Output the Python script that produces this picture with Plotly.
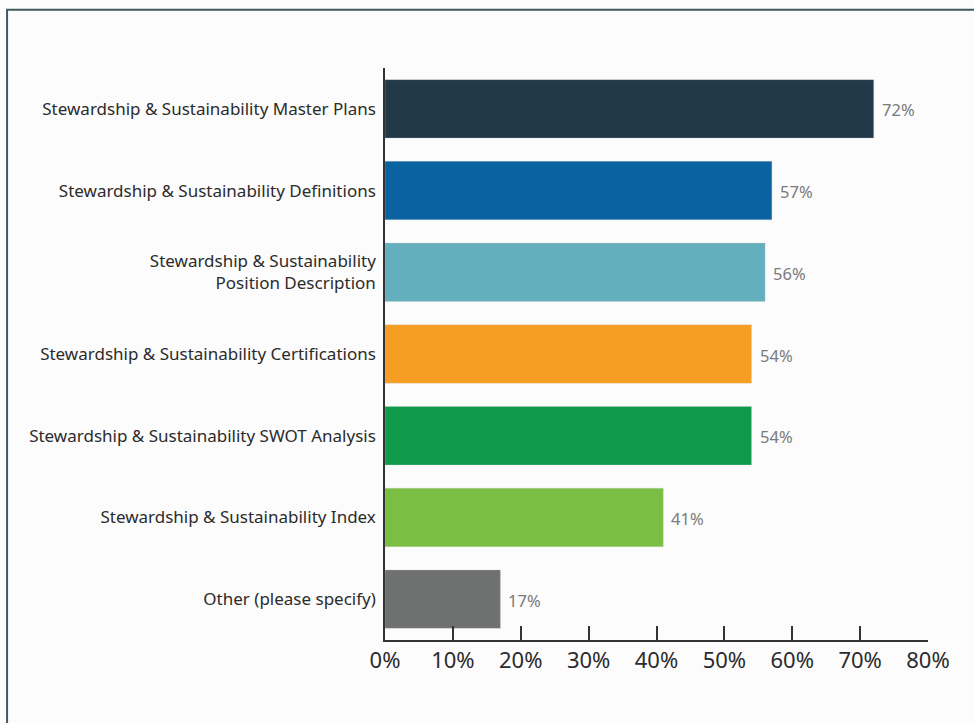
import plotly.graph_objects as go

categories = [
    "Stewardship & Sustainability Master Plans",
    "Stewardship & Sustainability Definitions",
    "Stewardship & Sustainability<br>Position Description",
    "Stewardship & Sustainability Certifications",
    "Stewardship & Sustainability SWOT Analysis",
    "Stewardship & Sustainability Index",
    "Other (please specify)",
]
values = [72, 57, 56, 54, 54, 41, 17]
colors = ["#22394a", "#0b62a0", "#63afbd", "#f59e23", "#0f9b49", "#7abf43", "#6f7170"]
tick_vals = [0, 10, 20, 30, 40, 50, 60, 70, 80]
tick_text = [f"{v}%" for v in tick_vals]

FONT = "Noto Sans"

fig = go.Figure(
    go.Bar(
        x=values,
        y=categories,
        orientation="h",
        marker=dict(color=colors, line=dict(color="rgba(200,200,200,0.6)", width=0.5)),
        width=0.715,
        hoverinfo="skip",
    )
)

# value labels just past each bar end
for cat, v in zip(categories, values):
    fig.add_annotation(
        x=v, y=cat, text=f"{v}%", showarrow=False,
        xanchor="left", xshift=6, yshift=-1,
        font=dict(family=FONT, size=16.5, color="#7a7a7a"),
    )

# outer frame
fig.add_shape(
    type="rect", xref="paper", yref="paper",
    x0=-0.696, x1=1.3, y0=-0.3, y1=1.102,
    line=dict(color="#3f5b60", width=2), fillcolor="rgba(0,0,0,0)", layer="below",
)

fig.update_layout(
    width=974, height=723,
    margin=dict(l=385, r=46, t=68, b=83),
    paper_bgcolor="#fcfcfc", plot_bgcolor="#fcfcfc",
    showlegend=False,
    font=dict(family=FONT, color="#2b2b2b"),
    xaxis=dict(
        range=[0, 80], tickvals=tick_vals, ticktext=tick_text,
        showgrid=False, zeroline=False,
        showline=True, linecolor="#333333", linewidth=1.5,
        ticks="inside", ticklen=14, tickwidth=1.5, tickcolor="#333333",
        tickfont=dict(family=FONT, size=22, color="#2b2b2b"),
        fixedrange=True,
    ),
    yaxis=dict(
        showgrid=False, zeroline=False,
        showline=True, linecolor="#333333", linewidth=1.5,
        ticks="", ticklabelstandoff=4,
        tickfont=dict(family=FONT, size=17, color="#2b2b2b"),
        fixedrange=True,
    ),
)
fig.update_yaxes(range=[6.5, -0.5], autorange=False)

fig.write_html("out.html")
